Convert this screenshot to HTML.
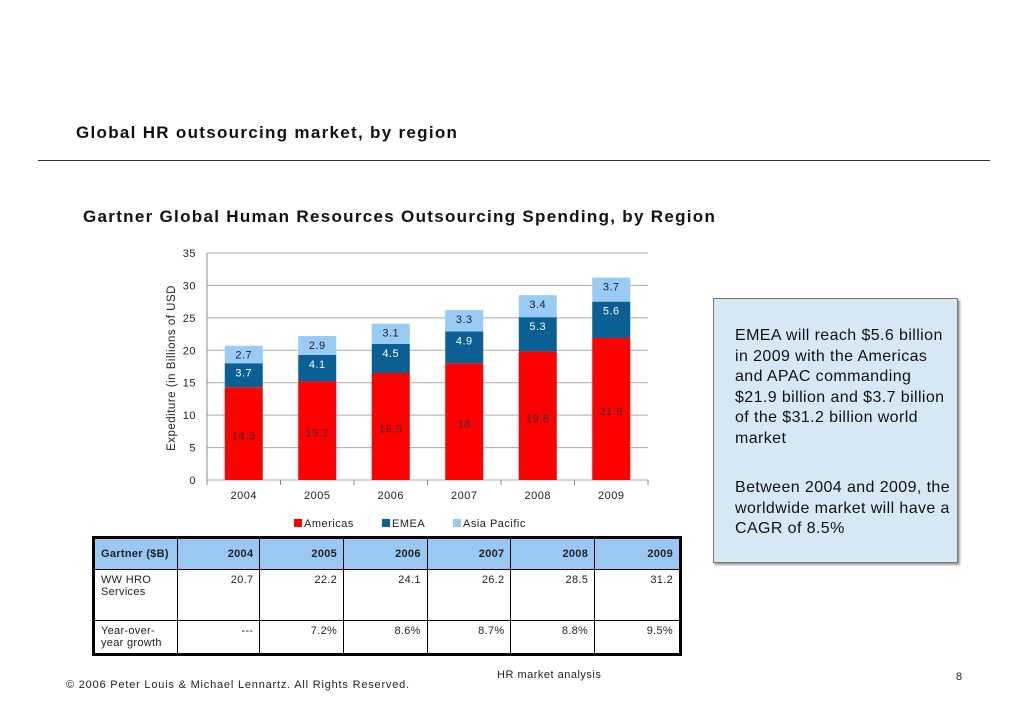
<!DOCTYPE html>
<html><head><meta charset="utf-8"><style>
body{margin:0;width:1030px;height:728px;background:#fff;font-family:"Liberation Sans",sans-serif;position:relative;overflow:hidden}
.abs{position:absolute}
table{border-collapse:collapse;position:absolute;left:92px;top:536px;width:590px;border:3px solid #000;font-size:11px;letter-spacing:0.3px}
td{border:1px solid #000;vertical-align:top;padding:4px 6px;text-align:right;color:#222}
td:first-child{text-align:left}
tr.h td{background:#99c8f4;font-weight:bold;vertical-align:middle;height:22px}
svg text{letter-spacing:0.5px}
</style></head><body>
<div class="abs" style="left:76px;top:123px;font-size:17px;font-weight:bold;color:#111;letter-spacing:1.3px">Global HR outsourcing market, by region</div>
<div class="abs" style="left:38px;top:160px;width:952px;height:1px;background:#333"></div>
<div class="abs" style="left:83px;top:207px;font-size:17px;font-weight:bold;color:#111;letter-spacing:1.3px">Gartner Global Human Resources Outsourcing Spending, by Region</div>

<svg class="abs" style="left:0;top:0" width="1030" height="728" id="chart"></svg>

<div class="abs" style="left:713px;top:298px;width:222px;height:253px;background:#d7e8f5;border:1px solid #777;box-shadow:2px 2px 2px #999;padding:10px 0 0 21px;font-size:16px;line-height:20.5px;color:#111;letter-spacing:0.4px">
<p style="margin:17px 0 29px;width:214px">EMEA will reach $5.6 billion in 2009 with the Americas and APAC commanding $21.9 billion and $3.7 billion of the $31.2 billion world market</p>
<p style="margin:0;width:222px">Between 2004 and 2009, the worldwide market will have a CAGR of 8.5%</p>
</div>

<table>
<tr class="h"><td style="width:70px">Gartner ($B)</td><td>2004</td><td>2005</td><td>2006</td><td>2007</td><td>2008</td><td>2009</td></tr>
<tr style="height:51px"><td>WW HRO Services</td><td>20.7</td><td>22.2</td><td>24.1</td><td>26.2</td><td>28.5</td><td>31.2</td></tr>
<tr style="height:32px"><td>Year-over-year growth</td><td>---</td><td>7.2%</td><td>8.6%</td><td>8.7%</td><td>8.8%</td><td>9.5%</td></tr>
</table>

<div class="abs" style="left:497px;top:669px;font-size:11px;color:#222;letter-spacing:0.5px">HR market analysis</div>
<div class="abs" style="left:66px;top:679px;font-size:11px;color:#222;letter-spacing:0.8px">© 2006 Peter Louis &amp; Michael Lennartz. All Rights Reserved.</div>
<div class="abs" style="left:956px;top:671px;font-size:11px;color:#222">8</div>

<script>
const categories=["2004","2005","2006","2007","2008","2009"];
const americas=[14.3,15.2,16.5,18,19.8,21.9];
const emea=[3.7,4.1,4.5,4.9,5.3,5.6];
const apac=[2.7,2.9,3.1,3.3,3.4,3.7];
const yTicks=[0,5,10,15,20,25,30,35];
const svg=document.getElementById('chart');
const NS='http://www.w3.org/2000/svg';
const x0=207,x1=648,yB=480,yT=253,yMax=35;
const y=v=>yB-(yB-yT)*v/yMax;
const bw=(x1-x0)/categories.length;
const xc=i=>x0+bw*(i+0.5);
function mk(t,a,txt){const e=document.createElementNS(NS,t);for(const k in a)e.setAttribute(k,a[k]);if(txt!==undefined)e.textContent=txt;svg.appendChild(e);return e;}
yTicks.forEach(t=>{
 const g=mk('line',{x1:x0,x2:x1,y1:y(t),y2:y(t),stroke:'#aaa','stroke-width':1});
 
 
 const l=mk('text',{x:x0-11,y:y(t)+4,'text-anchor':'end','font-size':11,fill:'#222','font-family':'Liberation Sans'},t);
 
 
});
mk('line',{x1:x0,x2:x0,y1:yT,y2:yB,stroke:'#888'});
for(let i=0;i<=categories.length;i++){mk('line',{x1:x0+bw*i,x2:x0+bw*i,y1:yB,y2:yB+5,stroke:'#888'});}
const series=[[americas,'#ff0000','#333'],[emea,'#0a5f94','#fff'],[apac,'#99ccf5','#222']];
categories.forEach((c,i)=>{
 let base=0;
 series.forEach(([arr,col,tc],s)=>{
  const v=arr[i];
  const r=mk('rect',{x:xc(i)-19,y:y(base+v),width:38,height:y(base)-y(base+v),fill:col});
  
  
  const ly=s===0?y(base+v*0.5)+6:y(base+v)+13;
  const t=mk('text',{x:xc(i),y:ly,'text-anchor':'middle','font-size':11,fill:tc,'font-family':'Liberation Sans'},v);
  
  
  base+=v;
 });
 const xl=mk('text',{x:xc(i),y:499,'text-anchor':'middle','font-size':11,fill:'#222','font-family':'Liberation Sans'},c);
 
 
});
const yt=mk('text',{transform:'translate(175,368) rotate(-90)','text-anchor':'middle','font-size':11.5,fill:'#222','font-family':'Liberation Sans'},'Expediture (in Billions of USD');


const legend=[['Americas','#ff0000',294],['EMEA','#0a5f94',382],['Asia Pacific','#99ccf5',453]];
legend.forEach(([n,col,lx])=>{
 const r=mk('rect',{x:lx,y:519,width:8,height:8,fill:col});
 
 
 const t=mk('text',{x:lx+10,y:527,'font-size':11,fill:'#222','font-family':'Liberation Sans'},n);
 
 
});
</script>
</body></html>
